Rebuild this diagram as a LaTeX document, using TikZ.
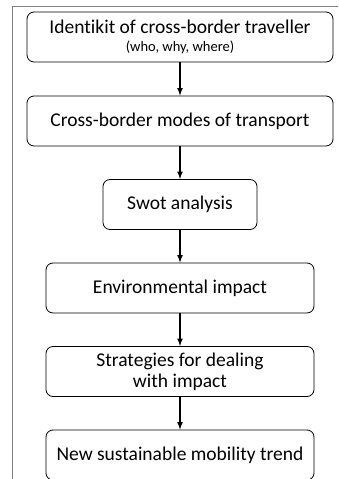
\documentclass[tikz,border=0pt]{standalone}
\usepackage{fontspec}
\setmainfont{Carlito}[Ligatures=NoCommon]
\begin{document}
\begin{tikzpicture}[x=1pt, y=-1pt,
    stage/.style={draw, rounded corners=7pt, line width=0.8pt, minimum height=50pt, inner sep=2pt, align=center, font=\fontsize{19.5}{21}\selectfont},
    flow/.style={-latex, line width=1.6pt}]
    \useasboundingbox (0,0) rectangle (338,479);
    \draw[gray, line width=0.8pt] (338,6) -- (12,6) -- (12,479);

    \node[stage, minimum width=306pt] (who) at (180,37) {Identikit of cross-border traveller\\[-3pt]{\fontsize{14.5}{15}\selectfont (who, why, where)}};
    \node[stage, minimum width=306pt] (modes) at (180,121) {Cross-border modes of transport};
    \node[stage, minimum width=154pt] (swot) at (180,204.5) {Swot analysis};
    \node[stage, minimum width=268pt] (env) at (180,288) {Environmental impact};
    \node[stage, minimum width=268pt] (strat) at (180,371.5) {Strategies for dealing\\with impact};
    \node[stage, minimum width=268pt] (trend) at (180,455) {New sustainable mobility trend};

    \draw[flow] (who) -- (modes);
    \draw[flow] (modes) -- (swot);
    \draw[flow] (swot) -- (env);
    \draw[flow] (env) -- (strat);
    \draw[flow] (strat) -- (trend);
  \end{tikzpicture}
\end{document}
